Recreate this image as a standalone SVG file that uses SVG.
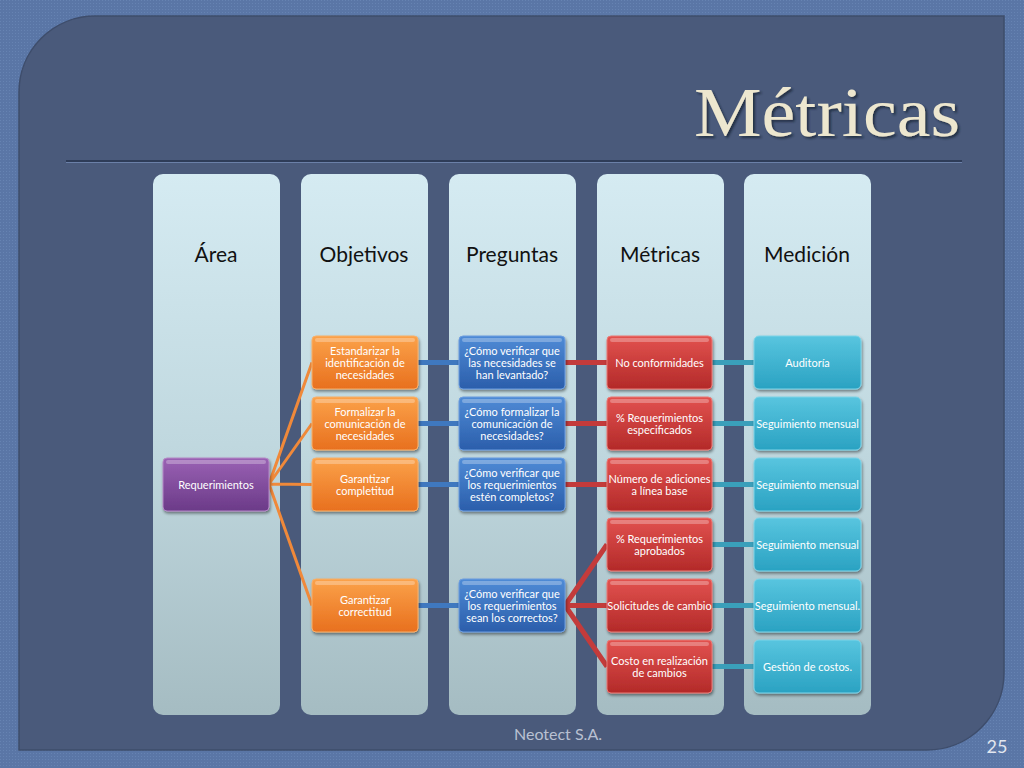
<svg xmlns="http://www.w3.org/2000/svg" width="1024" height="768" viewBox="0 0 1024 768">
<defs>
<style>
.t{font-family:Lato,"Open Sans","Liberation Sans",sans-serif;font-size:11px;fill:#ffffff;text-anchor:middle}
.h{font-family:Lato,"Open Sans","Liberation Sans",sans-serif;font-size:21px;fill:#111111;text-anchor:middle}
.col{fill:url(#gCol)}
.n{stroke-width:1;filter:url(#sh)}
.or{fill:url(#gOr);stroke:#f7b06a}
.bl{fill:url(#gBl);stroke:#6d9de0}
.rd{fill:url(#gRd);stroke:#ea7a76}
.cy{fill:url(#gCy);stroke:#7fd4e8}
.pu{fill:url(#gPu);stroke:#b488c6}
.hl{fill:#ffffff;opacity:0.28}
.cOr{stroke:#f0893a;stroke-width:3;fill:none}
.cBl{stroke:#3f78bf;stroke-width:5;fill:none}
.cRd{stroke:#c33b3b;stroke-width:5;fill:none}
.cCy{stroke:#3a9fba;stroke-width:5;fill:none}
</style>
<linearGradient id="gCol" x1="0" y1="0" x2="0" y2="1"><stop offset="0" stop-color="#d5ebf2"/><stop offset="0.5" stop-color="#c0d8df"/><stop offset="1" stop-color="#a5bcc2"/></linearGradient>
<linearGradient id="gOr" x1="0" y1="0" x2="0" y2="1"><stop offset="0" stop-color="#fba24a"/><stop offset="1" stop-color="#e8701e"/></linearGradient>
<linearGradient id="gBl" x1="0" y1="0" x2="0" y2="1"><stop offset="0" stop-color="#4f8bd6"/><stop offset="1" stop-color="#2b5eab"/></linearGradient>
<linearGradient id="gRd" x1="0" y1="0" x2="0" y2="1"><stop offset="0" stop-color="#e2524f"/><stop offset="1" stop-color="#b32a29"/></linearGradient>
<linearGradient id="gCy" x1="0" y1="0" x2="0" y2="1"><stop offset="0" stop-color="#58c5df"/><stop offset="1" stop-color="#2aa2c2"/></linearGradient>
<linearGradient id="gPu" x1="0" y1="0" x2="0" y2="1"><stop offset="0" stop-color="#9a62b4"/><stop offset="1" stop-color="#6b3a88"/></linearGradient>
<filter id="sh" x="-10%" y="-10%" width="130%" height="140%"><feDropShadow dx="1" dy="2" stdDeviation="1.5" flood-color="#000" flood-opacity="0.45"/></filter>
<filter id="tsh" x="-5%" y="-5%" width="110%" height="120%"><feDropShadow dx="2" dy="2" stdDeviation="1" flood-color="#1c2538" flood-opacity="0.8"/></filter>
<pattern id="tex" width="3" height="3" patternUnits="userSpaceOnUse"><rect width="3" height="3" fill="#5a76a6"/><rect width="1" height="1" fill="#6683b2"/></pattern>
</defs>

<rect width="1024" height="768" fill="url(#tex)"/>
<path d="M 95 16 H 1004 V 673 A 77 77 0 0 1 927 750 H 19 V 92 A 76 76 0 0 1 95 16 Z" fill="#4a5a7b" stroke="#3e4d6b" stroke-width="1.5"/>

<text x="960" y="136" text-anchor="end" font-family="'Liberation Serif','DejaVu Serif',serif" font-size="70" fill="#ede7cf" filter="url(#tsh)" textLength="266" lengthAdjust="spacingAndGlyphs">Métricas</text>
<line x1="66" y1="161" x2="962" y2="161" stroke="#2e3c58" stroke-width="2"/>
<line x1="66" y1="162.5" x2="962" y2="162.5" stroke="#6b80a8" stroke-width="1"/>

<g id="columns">
<rect class="col" x="153" y="174" width="127" height="541" rx="10"/>
<rect class="col" x="301" y="174" width="127" height="541" rx="10"/>
<rect class="col" x="449" y="174" width="127" height="541" rx="10"/>
<rect class="col" x="597" y="174" width="127" height="541" rx="10"/>
<rect class="col" x="744" y="174" width="127" height="541" rx="10"/>
<text class="h" x="216" y="262">Área</text>
<text class="h" x="364" y="262">Objetivos</text>
<text class="h" x="512" y="262">Preguntas</text>
<text class="h" x="660" y="262">Métricas</text>
<text class="h" x="807" y="262">Medición</text>
</g>

<g id="connectors">
<path class="cOr" d="M 269 484 L 312 362.5 M 269 484 L 312 423.5 M 269 484 L 312 484.5 M 269 484 L 312 605.5"/>
<path class="cBl" d="M 418 362.5 H 459 M 418 423.5 H 459 M 418 484.5 H 459 M 418 605.5 H 459"/>
<path class="cRd" d="M 565 362.5 H 607 M 565 423.5 H 607 M 565 484.5 H 607 M 565 605.5 L 607 544.5 M 565 605.5 H 607 M 565 605.5 L 607 666.5"/>
<path class="cCy" d="M 712 362.5 H 754 M 712 423.5 H 754 M 712 484.5 H 754 M 712 544.5 H 754 M 712 605.5 H 754 M 712 666.5 H 754"/>
</g>

<g id="n-requerimientos"><rect class="n pu" x="163" y="458" width="106" height="53" rx="4"/><rect class="hl" x="166" y="460" width="100" height="4" rx="2"/><text class="t" x="216" y="488.5">Requerimientos</text></g>

<g id="n-obj1"><rect class="n or" x="312" y="336" width="106" height="53" rx="4"/><rect class="hl" x="315" y="338" width="100" height="4" rx="2"/><text class="t" x="365" y="354.5">Estandarizar la<tspan x="365" dy="12">identificación de</tspan><tspan x="365" dy="12">necesidades</tspan></text></g>
<g id="n-obj2"><rect class="n or" x="312" y="397" width="106" height="53" rx="4"/><rect class="hl" x="315" y="399" width="100" height="4" rx="2"/><text class="t" x="365" y="415.5">Formalizar la<tspan x="365" dy="12">comunicación de</tspan><tspan x="365" dy="12">necesidades</tspan></text></g>
<g id="n-obj3"><rect class="n or" x="312" y="458" width="106" height="53" rx="4"/><rect class="hl" x="315" y="460" width="100" height="4" rx="2"/><text class="t" x="365" y="482.5">Garantizar<tspan x="365" dy="12">completitud</tspan></text></g>
<g id="n-obj4"><rect class="n or" x="312" y="579" width="106" height="53" rx="4"/><rect class="hl" x="315" y="581" width="100" height="4" rx="2"/><text class="t" x="365" y="603.5">Garantizar<tspan x="365" dy="12">correctitud</tspan></text></g>

<g id="n-preg1"><rect class="n bl" x="459" y="336" width="106" height="53" rx="4"/><rect class="hl" x="462" y="338" width="100" height="4" rx="2"/><text class="t" x="512" y="354.5">¿Cómo verificar que<tspan x="512" dy="12">las necesidades se</tspan><tspan x="512" dy="12">han levantado?</tspan></text></g>
<g id="n-preg2"><rect class="n bl" x="459" y="397" width="106" height="53" rx="4"/><rect class="hl" x="462" y="399" width="100" height="4" rx="2"/><text class="t" x="512" y="415.5">¿Cómo formalizar la<tspan x="512" dy="12">comunicación de</tspan><tspan x="512" dy="12">necesidades?</tspan></text></g>
<g id="n-preg3"><rect class="n bl" x="459" y="458" width="106" height="53" rx="4"/><rect class="hl" x="462" y="460" width="100" height="4" rx="2"/><text class="t" x="512" y="476.5">¿Cómo verificar que<tspan x="512" dy="12">los requerimientos</tspan><tspan x="512" dy="12">estén completos?</tspan></text></g>
<g id="n-preg4"><rect class="n bl" x="459" y="579" width="106" height="53" rx="4"/><rect class="hl" x="462" y="581" width="100" height="4" rx="2"/><text class="t" x="512" y="597.5">¿Cómo verificar que<tspan x="512" dy="12">los requerimientos</tspan><tspan x="512" dy="12">sean los correctos?</tspan></text></g>

<g id="n-met1"><rect class="n rd" x="607" y="336" width="105" height="53" rx="4"/><rect class="hl" x="610" y="338" width="99" height="4" rx="2"/><text class="t" x="659.5" y="366.5">No conformidades</text></g>
<g id="n-met2"><rect class="n rd" x="607" y="397" width="105" height="53" rx="4"/><rect class="hl" x="610" y="399" width="99" height="4" rx="2"/><text class="t" x="659.5" y="421.5">% Requerimientos<tspan x="659.5" dy="12">especificados</tspan></text></g>
<g id="n-met3"><rect class="n rd" x="607" y="458" width="105" height="53" rx="4"/><rect class="hl" x="610" y="460" width="99" height="4" rx="2"/><text class="t" x="659.5" y="482.5">Número de adiciones<tspan x="659.5" dy="12">a línea base</tspan></text></g>
<g id="n-met4"><rect class="n rd" x="607" y="518" width="105" height="53" rx="4"/><rect class="hl" x="610" y="520" width="99" height="4" rx="2"/><text class="t" x="659.5" y="542.5">% Requerimientos<tspan x="659.5" dy="12">aprobados</tspan></text></g>
<g id="n-met5"><rect class="n rd" x="607" y="579" width="105" height="53" rx="4"/><rect class="hl" x="610" y="581" width="99" height="4" rx="2"/><text class="t" x="659.5" y="609.5">Solicitudes de cambio</text></g>
<g id="n-met6"><rect class="n rd" x="607" y="640" width="105" height="53" rx="4"/><rect class="hl" x="610" y="642" width="99" height="4" rx="2"/><text class="t" x="659.5" y="664.5">Costo en realización<tspan x="659.5" dy="12">de cambios</tspan></text></g>

<g id="n-med1"><rect class="n cy" x="754" y="336" width="107" height="53" rx="5"/><text class="t" x="807.5" y="366.5">Auditoría</text></g>
<g id="n-med2"><rect class="n cy" x="754" y="397" width="107" height="53" rx="5"/><text class="t" x="807.5" y="427.5">Seguimiento mensual</text></g>
<g id="n-med3"><rect class="n cy" x="754" y="458" width="107" height="53" rx="5"/><text class="t" x="807.5" y="488.5">Seguimiento mensual</text></g>
<g id="n-med4"><rect class="n cy" x="754" y="518" width="107" height="53" rx="5"/><text class="t" x="807.5" y="548.5">Seguimiento mensual</text></g>
<g id="n-med5"><rect class="n cy" x="754" y="579" width="107" height="53" rx="5"/><text class="t" x="807.5" y="609.5">Seguimiento mensual.</text></g>
<g id="n-med6"><rect class="n cy" x="754" y="640" width="107" height="53" rx="5"/><text class="t" x="807.5" y="670.5">Gestión de costos.</text></g>

<text x="558" y="740" text-anchor="middle" font-family="Lato,'Open Sans','Liberation Sans',sans-serif" font-size="16" fill="#b9c1d2">Neotect S.A.</text>
<text x="997" y="753" text-anchor="middle" font-family="Lato,'Open Sans','Liberation Sans',sans-serif" font-size="18" fill="#e2e6ef">25</text>
</svg>
